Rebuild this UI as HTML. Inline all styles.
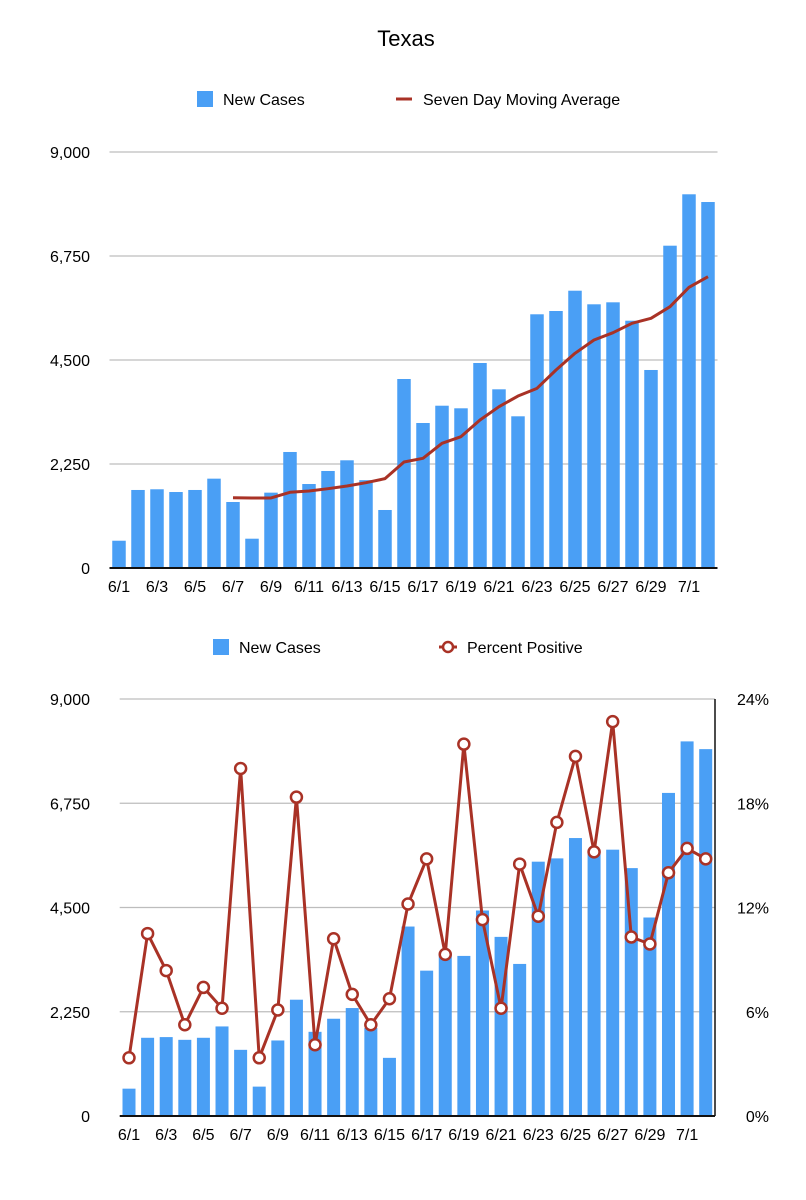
<!DOCTYPE html>
<html><head><meta charset="utf-8">
<style>
html,body{margin:0;padding:0;background:#fff;}
svg{display:block;font-family:"Liberation Sans",Arial,sans-serif;}
</style></head>
<body>
<svg id="c" width="806" height="1200" viewBox="0 0 806 1200">
<text x="406" y="46" text-anchor="middle" font-size="22" fill="#000">Texas</text>
<g>
<rect x="197" y="91" width="16" height="16" fill="#4a9ff5"/>
<text x="223" y="105" font-size="16">New Cases</text>
<line x1="396" y1="99" x2="412" y2="99" stroke="#a93226" stroke-width="3"/>
<text x="423" y="105" font-size="16">Seven Day Moving Average</text>
</g>
<g>
<rect x="213" y="639" width="16" height="16" fill="#4a9ff5"/>
<text x="239" y="653" font-size="16">New Cases</text>
<line x1="439" y1="647" x2="457" y2="647" stroke="#a93226" stroke-width="3"/>
<circle cx="448" cy="647" r="5" fill="#fff" stroke="#a93226" stroke-width="2.5"/>
<text x="467" y="653" font-size="16">Percent Positive</text>
</g>
<g id="top"></g>
<g id="bot"></g>
</svg>
<script>
const dates = ["6/1","6/2","6/3","6/4","6/5","6/6","6/7","6/8","6/9","6/10","6/11","6/12","6/13","6/14","6/15","6/16","6/17","6/18","6/19","6/20","6/21","6/22","6/23","6/24","6/25","6/26","6/27","6/28","6/29","6/30","7/1","7/2"];
const newCases = [590,1688,1703,1644,1688,1933,1428,634,1630,2510,1817,2099,2330,1900,1255,4089,3137,3511,3455,4435,3866,3282,5489,5560,5999,5705,5748,5350,4284,6973,8085,7918];
const movingAvg = [null,null,null,null,null,null,1520,1515,1515,1638,1666,1716,1774,1846,1933,2293,2373,2697,2841,3202,3490,3721,3887,4284,4645,4933,5091,5294,5402,5654,6073,6302];
const percentPositive = [3.35,10.5,8.37,5.25,7.4,6.2,20.0,3.35,6.1,18.35,4.1,10.2,7.0,5.25,6.75,12.2,14.8,9.3,21.4,11.3,6.2,14.5,11.5,16.9,20.7,15.2,22.7,10.3,9.9,14.0,15.4,14.8];
const leftTicks = [0,2250,4500,6750,9000];
const leftTickLabels = ["0","2,250","4,500","6,750","9,000"];
const rightTicks = [0,6,12,18,24];
const rightTickLabels = ["0%","6%","12%","18%","24%"];
const xLabelEvery = 2;

const NS="http://www.w3.org/2000/svg";
function mk(parent,tag,attrs){const e=document.createElementNS(NS,tag);for(const k in attrs)e.setAttribute(k,attrs[k]);parent.appendChild(e);return e;}

function drawChart(g,cfg){
  const n=dates.length, band=(cfg.x1-cfg.x0)/n;
  const xc=i=>cfg.x0+band*(i+0.5);
  const yL=v=>cfg.yb-(v/9000)*(cfg.yb-cfg.yt);
  const yR=v=>cfg.yb-(v/24)*(cfg.yb-cfg.yt);
  leftTicks.forEach((t,i)=>{
    if(t>0){const l=mk(g,"line",{x1:cfg.x0,x2:cfg.x1,y1:yL(t),y2:yL(t),stroke:"#bdbdbd","stroke-width":1.3});
    
    }
    const tx=mk(g,"text",{x:cfg.lx,y:yL(t)+6,"text-anchor":"end","font-size":16});
    tx.textContent=leftTickLabels[i];
    
    
  });
  newCases.forEach((v,i)=>{
    const r=mk(g,"rect",{x:xc(i)-cfg.bw/2,y:yL(v),width:cfg.bw,height:cfg.yb-yL(v),fill:"#4a9ff5"});
    
    
  });
  const ax=mk(g,"line",{x1:cfg.x0,x2:cfg.x1,y1:cfg.yb,y2:cfg.yb,stroke:"#111","stroke-width":2});
  
  
  dates.forEach((d,i)=>{
    if(i%xLabelEvery)return;
    const t=mk(g,"text",{x:xc(i),y:cfg.yb+24,"text-anchor":"middle","font-size":16});
    t.textContent=d;
    
    
  });
  if(cfg.type==="avg"){
    const pts=[];movingAvg.forEach((v,i)=>{if(v!==null)pts.push(xc(i)+","+yL(v));});
    const p=mk(g,"polyline",{points:pts.join(" "),fill:"none",stroke:"#a93226","stroke-width":3,"stroke-linejoin":"round"});
    
    
  } else {
    const ra=mk(g,"line",{x1:cfg.x1,x2:cfg.x1,y1:cfg.yt,y2:cfg.yb,stroke:"#111","stroke-width":1.5});
    
    
    rightTicks.forEach((t,i)=>{
      const tx=mk(g,"text",{x:cfg.x1+54,y:yR(t)+6,"text-anchor":"end","font-size":16});
      tx.textContent=rightTickLabels[i];
      
      
    });
    const p=mk(g,"polyline",{points:percentPositive.map((v,i)=>xc(i)+","+yR(v)).join(" "),fill:"none",stroke:"#a93226","stroke-width":3,"stroke-linejoin":"round"});
    
    
    percentPositive.forEach((v,i)=>{
      const c=mk(g,"circle",{cx:xc(i),cy:yR(v),r:5.5,fill:"#fff",stroke:"#a93226","stroke-width":2.5});
      
      
    });
  }
}
drawChart(document.getElementById("top"),{x0:109.5,x1:717.5,yt:152,yb:568,bw:13.5,lx:90,type:"avg"});
drawChart(document.getElementById("bot"),{x0:119.7,x1:715,yt:699,yb:1116,bw:13,lx:90,type:"pct"});
</script>
</body></html>
